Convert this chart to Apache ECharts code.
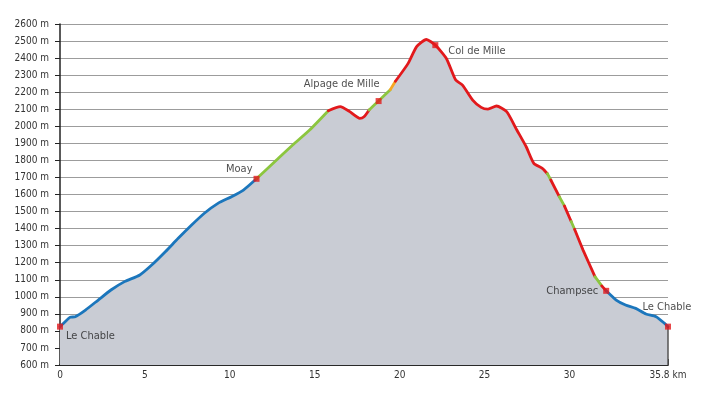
<!DOCTYPE html>
<html>
<head>
<meta charset="utf-8">
<script src="https://cdn.jsdelivr.net/npm/echarts@6/dist/echarts.min.js"></script>
<style>
  html, body { margin: 0; padding: 0; background: #fff; }
  #chart { width: 712px; height: 398px; }
</style>
</head>
<body>
<div id="chart"></div>
<script>
// profile: distance (km) / altitude (m)
const distKm = [0, 0.3, 0.6, 0.9, 1.5, 2.25, 3.0, 3.8, 4.7, 5.4, 6.2, 6.96, 7.75, 8.5, 9.3, 10.1, 10.8, 11.57,
  12.75, 13.7, 14.7, 15.8, 16.5, 17.06, 17.65, 17.9, 18.2, 18.76, 19.45, 19.75, 20.5, 21.0, 21.57, 22.1,
  22.75, 23.3, 23.7, 24.3, 24.8, 25.2, 25.7, 26.3, 26.9, 27.45, 27.9, 28.4, 28.7, 28.9, 29.4, 29.7, 30.1,
  30.3, 30.8, 31.5, 31.9, 32.16, 32.75, 33.3, 33.9, 34.5, 35.1, 35.6, 35.8]
const altM = [825, 854, 880, 883, 922, 981, 1040, 1089, 1128, 1186, 1264, 1343, 1421, 1490, 1548, 1587, 1626, 1692,
  1802, 1890, 1978, 2091, 2115, 2086, 2047, 2056, 2096, 2148, 2215, 2264, 2369, 2467, 2509, 2476,
  2398, 2271, 2242, 2154, 2111, 2101, 2119, 2086, 1978, 1880, 1783, 1753, 1722, 1685, 1587, 1533, 1442,
  1396, 1274, 1118, 1064, 1035, 981, 952, 932, 899, 883, 844, 825]

// track colour by stretch (km from / km to / kind)
const segFrom = [0, 11.57, 15.8, 18.2, 19.45, 19.75, 28.7, 28.9, 29.4, 29.7, 30.1, 30.3, 31.5, 31.9, 32.16]
const segTo   = [11.57, 15.8, 18.2, 19.45, 19.75, 28.7, 28.9, 29.4, 29.7, 30.1, 30.3, 31.5, 31.9, 32.16, 35.8]
const segKind = ['blue', 'green', 'red', 'green', 'orange', 'red', 'green', 'red', 'green', 'red', 'green', 'red', 'green', 'red', 'blue']

// waypoints
const wpNames = ['Le Chable', 'Moay', 'Alpage de Mille', 'Col de Mille', 'Champsec', 'Le Chable']
const wpKm = [0, 11.57, 18.76, 22.1, 32.16, 35.8]
const wpAlt = [825, 1692, 2148, 2476, 1035, 825]

const yMin = 600, yMax = 2600, xMax = 35.8

const colors = { blue: '#1b76bc', green: '#8cc63f', red: '#e2191c', orange: '#f6a623' }
const labelFont = '"Liberation Sans Narrow", "DejaVu Sans Condensed", "Roboto Condensed", sans-serif'

const labelPlace = [
  { position: 'right', distance: 3, offset: [0, 10] },
  { position: 'left', distance: 1, offset: [0, -10] },
  { position: 'left', distance: 0, offset: [4, -17] },
  { position: 'right', distance: 10, offset: [0, 6] },
  { position: 'left', distance: 5, offset: [0, 0] },
  { position: 'top', distance: 11, offset: [-1, 0] }
]

const chart = echarts.init(document.getElementById('chart'))

const profile = distKm.map((d, i) => [d, altM[i]])
const last = profile[profile.length - 1]

// one line series per coloured stretch, sharing the end points
const segSeries = segFrom.map((f, i) => ({
  type: 'line',
  data: profile.filter(p => p[0] >= f - 1e-6 && p[0] <= segTo[i] + 1e-6),
  smooth: 0.2,
  symbol: 'none',
  lineStyle: { width: 2.8, color: colors[segKind[i]], cap: 'round' },
  z: 3
}))

const option = {
  animation: false,
  textStyle: { fontFamily: labelFont },
  grid: { left: 60, right: 44, top: 24, bottom: 33 },
  xAxis: [
    {
      type: 'value', min: 0, max: xMax, interval: 1,
      axisLine: { lineStyle: { color: '#222', width: 1.5 } },
      axisTick: { inside: true, length: 3, lineStyle: { color: '#222' } },
      axisLabel: { show: false },
      splitLine: { show: false }
    },
    {
      type: 'value', min: 0, max: xMax, interval: 5, position: 'bottom',
      axisLine: { lineStyle: { color: '#222', width: 1.5 } },
      axisTick: { inside: true, length: 6, lineStyle: { color: '#222' } },
      axisLabel: {
        color: '#333', fontSize: 10, margin: 5, fontFamily: labelFont,
        formatter: v => {
          if (Math.abs(v - xMax) < 1e-6) return xMax + ' km'
          if (v % 5 === 0 && v < 35) return String(v)
          return ''
        }
      },
      splitLine: { show: false }
    }
  ],
  yAxis: {
    type: 'value', min: yMin, max: yMax, interval: 100,
    axisLine: { show: true, lineStyle: { color: '#222', width: 1.5 } },
    axisTick: { show: true, length: 5, lineStyle: { color: '#222' } },
    axisLabel: { color: '#333', fontSize: 10, margin: 11, fontFamily: labelFont, formatter: v => v + ' m' },
    splitLine: { lineStyle: { color: '#9c9c9c', width: 1 } }
  },
  series: [
    {
      type: 'line',
      data: profile,
      smooth: 0.2,
      symbol: 'none',
      lineStyle: { width: 0 },
      areaStyle: { color: '#c9ccd4', opacity: 1, origin: 'start' },
      z: 2,
      markLine: {
        silent: true, symbol: 'none', label: { show: false },
        lineStyle: { color: '#555', width: 1.5, type: 'solid' },
        data: [[{ coord: [last[0], yMin] }, { coord: [last[0], last[1]] }]]
      }
    },
    ...segSeries,
    {
      type: 'scatter',
      symbol: 'rect',
      symbolSize: 6,
      itemStyle: { color: '#e2191c' },
      z: 5,
      data: wpKm.map((k, i) => ({
        value: [k, wpAlt[i]],
        name: wpNames[i],
        label: Object.assign({
          show: true, formatter: wpNames[i], color: '#222', fontSize: 11, fontFamily: labelFont
        }, labelPlace[i])
      }))
    }
  ]
}

chart.setOption(option)
</script>
</body>
</html>
